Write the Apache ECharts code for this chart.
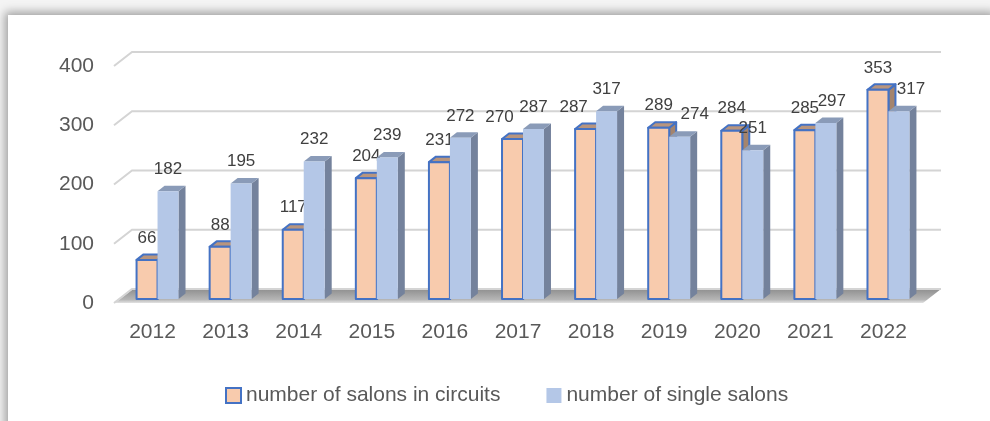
<!DOCTYPE html>
<html>
<head>
<meta charset="utf-8">
<script src="https://cdn.jsdelivr.net/npm/echarts@6/dist/echarts.min.js"></script>
<style>
  html, body { margin: 0; padding: 0; background: #f4f4f4; }
  #frame { position: absolute; left: 8px; top: 15px; width: 990px; height: 420px; background: #fff;
           box-shadow: -3px -3px 9px rgba(0,0,0,0.35); }
  #main { position: absolute; left: 0; top: 0; width: 990px; height: 421px; }
</style>
</head>
<body>
<div id="frame"></div>
<div id="main"></div>
<script>
// chart data
var years = ['2012', '2013', '2014', '2015', '2016', '2017', '2018', '2019', '2020', '2021', '2022'];
var circuitSalons = [66, 88, 117, 204, 231, 270, 287, 289, 284, 285, 353];
var singleSalons = [182, 195, 232, 239, 272, 287, 317, 274, 251, 297, 317];
var yTicks = [0, 100, 200, 300, 400];
// hand nudges of some value labels (px), as in the original
var circuitLabelNudge = [0, 0, 0, 0, 0, -13, -12, 0, 0, 0, 0];
var singleLabelNudge = [0, 0, 0, 0, 0, 0, 0, 15, 0, 6, 12];

// fake 3d look
var SHIFT_X = 5, SHIFT_Y = 4;     // bars sit a bit behind the front plane
var DEPTH_X = 7, DEPTH_Y = 5.5;   // bar depth
var WALL_X = 18, WALL_Y = 14;     // back wall offset

var FONT = '"Liberation Sans", Arial, sans-serif';

function barRenderer(side, colors, nudges) {
	return function(params, api) {
		var i = api.value(0), v = api.value(1);
		var base = api.coord([i, 0]);
		var top = api.coord([i, v]);
		var band = api.size([1, 0])[0];
		var w = band * 0.287;
		var cx = base[0] + SHIFT_X;
		var x0 = side === 0 ? cx - w : cx;
		var x1 = x0 + w;
		var yb = base[1] - SHIFT_Y;
		var yt = top[1] - SHIFT_Y;
		var stroke = colors.stroke ? { stroke: colors.stroke, lineWidth: 2, lineJoin: 'round' } : {};
		function st(fill) {
			return Object.assign({ fill: fill }, stroke);
		}
		return {
			type: 'group',
			children: [
				{ type: 'polygon', shape: { points: [[x1, yb], [x1 + DEPTH_X, yb - DEPTH_Y], [x1 + DEPTH_X, yt - DEPTH_Y], [x1, yt]] }, style: st(colors.side) },
				{ type: 'polygon', shape: { points: [[x0, yt], [x0 + DEPTH_X, yt - DEPTH_Y], [x1 + DEPTH_X, yt - DEPTH_Y], [x1, yt]] }, style: st(colors.top) },
				{ type: 'rect', shape: { x: x0, y: yt, width: w, height: yb - yt }, style: st(colors.front) },
				{ type: 'text', x: (x0 + x1) / 2 + nudges[i], y: yt - 22,
				  style: { text: String(v), fill: '#404040', font: '17px ' + FONT, align: 'center', verticalAlign: 'middle' } }
			]
		};
	};
}

var myChart = echarts.init(document.getElementById('main'));
var option = {
	backgroundColor: 'transparent',
	animation: false,
	grid: { left: 116, right: 70, top: 66, bottom: 118 },
	legend: {
		left: 220,
		top: 380,
		itemWidth: 15,
		itemHeight: 15,
		itemGap: 46,
		icon: 'rect',
		textStyle: { fontFamily: FONT, fontSize: 21, color: '#595959' },
		data: [
			{ name: 'number of salons in circuits', itemStyle: { color: '#F8CBAD', borderColor: '#4472C4', borderWidth: 2 } },
			{ name: 'number of single salons', itemStyle: { color: '#B4C7E7', borderWidth: 0 } }
		]
	},
	xAxis: {
		type: 'category',
		data: years,
		axisLine: { show: false },
		axisTick: { show: false },
		axisLabel: { fontFamily: FONT, fontSize: 21, color: '#595959', margin: 19 }
	},
	yAxis: {
		type: 'value',
		min: 0,
		max: 400,
		interval: 100,
		splitLine: { show: false },
		axisLabel: { fontFamily: FONT, fontSize: 21, color: '#595959', margin: 22 }
	},
	series: [
		{
			// floor
			type: 'custom',
			silent: true,
			data: [[0, 0]],
			renderItem: function(params, api) {
				var cs = params.coordSys;
				var y = api.coord([0, 0])[1];
				var xl = cs.x - 1, xr = cs.x + cs.width + 3;
				return {
					type: 'polygon',
					shape: { points: [[xl, y], [xl + WALL_X, y - WALL_Y], [xr + WALL_X, y - WALL_Y], [xr, y]] },
					style: {
						fill: new echarts.graphic.LinearGradient(0, 0, 0, 1, [
							{ offset: 0, color: '#8f8f8f' },
							{ offset: 0.75, color: '#b5b5b5' },
							{ offset: 1, color: '#e2e2e2' }
						])
					}
				};
			}
		},
		{
			// back wall grid lines
			type: 'custom',
			silent: true,
			data: yTicks.map(function(t) { return [0, t]; }),
			renderItem: function(params, api) {
				var cs = params.coordSys;
				var y = api.coord([0, api.value(1)])[1];
				var xl = cs.x - 2, xr = cs.x + cs.width + 3;
				return {
					type: 'polyline',
					shape: { points: [[xl, y], [xl + WALL_X, y - WALL_Y], [xr + WALL_X, y - WALL_Y]] },
					style: { fill: null, stroke: '#d4d4d4', lineWidth: 2 }
				};
			}
		},
		{
			name: 'number of salons in circuits',
			type: 'custom',
			itemStyle: { color: '#F8CBAD', borderColor: '#4472C4', borderWidth: 2 },
			data: circuitSalons.map(function(v, i) { return [i, v]; }),
			renderItem: barRenderer(0, { front: '#F8CBAD', top: '#B8957E', side: '#A4846D', stroke: '#4472C4' }, circuitLabelNudge)
		},
		{
			name: 'number of single salons',
			type: 'custom',
			itemStyle: { color: '#B4C7E7' },
			data: singleSalons.map(function(v, i) { return [i, v]; }),
			renderItem: barRenderer(1, { front: '#B4C7E7', top: '#8A9BB8', side: '#74829C' }, singleLabelNudge)
		}
	]
};
myChart.setOption(option);
</script>
</body>
</html>
